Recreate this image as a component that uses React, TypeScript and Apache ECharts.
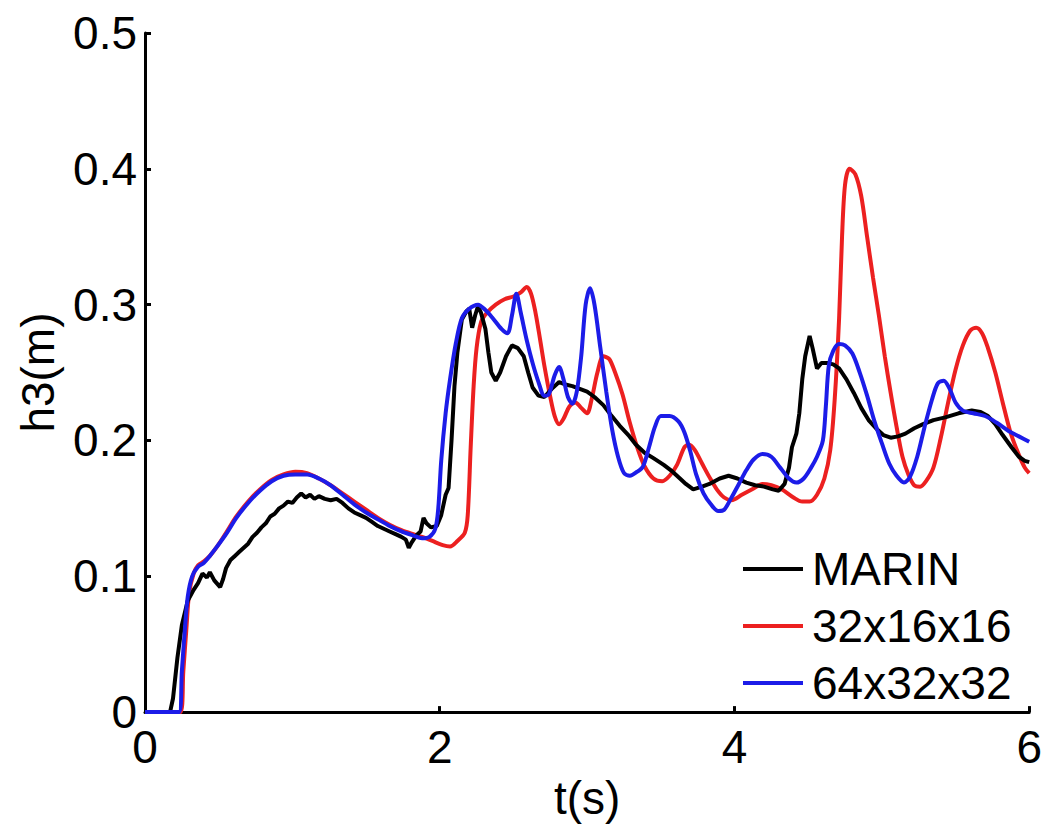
import React, { useEffect, useRef } from "react";
import * as echarts from "echarts";

// Time stamps (s) and wave heights h3 (m) for each run
const marinT = [0, 0.17, 0.19, 0.22, 0.25, 0.29, 0.33, 0.36, 0.39, 0.42, 0.44, 0.47, 0.51, 0.53, 0.55, 0.58, 0.61, 0.64, 0.67, 0.7, 0.73, 0.76, 0.79, 0.82, 0.85, 0.88, 0.91, 0.94, 0.97, 1.0, 1.03, 1.06, 1.09, 1.12, 1.15, 1.18, 1.22, 1.26, 1.3, 1.34, 1.38, 1.42, 1.46, 1.5, 1.54, 1.58, 1.62, 1.66, 1.7, 1.74, 1.77, 1.79, 1.81, 1.84, 1.87, 1.89, 1.91, 1.94, 1.98, 2.01, 2.04, 2.06, 2.08, 2.1, 2.12, 2.15, 2.18, 2.2, 2.22, 2.24, 2.26, 2.28, 2.31, 2.33, 2.35, 2.38, 2.41, 2.45, 2.49, 2.53, 2.57, 2.6, 2.63, 2.67, 2.71, 2.76, 2.81, 2.86, 2.9, 2.95, 3.0, 3.05, 3.11, 3.16, 3.22, 3.28, 3.33, 3.39, 3.45, 3.52, 3.58, 3.63, 3.67, 3.72, 3.78, 3.83, 3.9, 3.96, 4.02, 4.08, 4.14, 4.2, 4.26, 4.3, 4.34, 4.37, 4.39, 4.42, 4.44, 4.46, 4.48, 4.51, 4.53, 4.56, 4.59, 4.63, 4.67, 4.71, 4.76, 4.81, 4.86, 4.91, 4.96, 5.01, 5.06, 5.11, 5.16, 5.22, 5.28, 5.35, 5.43, 5.52, 5.61, 5.67, 5.72, 5.77, 5.82, 5.88, 5.93, 5.97, 6.0];
const marinH = [0, 0, 0.01, 0.04, 0.064, 0.082, 0.09, 0.095, 0.102, 0.099, 0.103, 0.097, 0.092, 0.098, 0.106, 0.112, 0.115, 0.118, 0.121, 0.124, 0.129, 0.132, 0.136, 0.139, 0.144, 0.146, 0.15, 0.152, 0.155, 0.154, 0.158, 0.161, 0.158, 0.16, 0.157, 0.159, 0.157, 0.156, 0.157, 0.154, 0.15, 0.147, 0.145, 0.143, 0.14, 0.137, 0.135, 0.133, 0.131, 0.129, 0.127, 0.121, 0.125, 0.13, 0.133, 0.143, 0.139, 0.136, 0.137, 0.145, 0.16, 0.165, 0.2, 0.24, 0.265, 0.289, 0.295, 0.297, 0.283, 0.292, 0.299, 0.294, 0.282, 0.265, 0.25, 0.244, 0.25, 0.262, 0.27, 0.268, 0.262, 0.25, 0.239, 0.233, 0.232, 0.238, 0.243, 0.241, 0.24, 0.238, 0.236, 0.232, 0.226, 0.219, 0.211, 0.204, 0.197, 0.191, 0.187, 0.182, 0.177, 0.172, 0.168, 0.164, 0.166, 0.168, 0.172, 0.174, 0.172, 0.169, 0.167, 0.166, 0.164, 0.163, 0.168, 0.18, 0.195, 0.205, 0.22, 0.245, 0.262, 0.277, 0.268, 0.253, 0.257, 0.257, 0.256, 0.253, 0.245, 0.235, 0.224, 0.215, 0.209, 0.204, 0.202, 0.203, 0.205, 0.209, 0.212, 0.215, 0.217, 0.22, 0.222, 0.221, 0.218, 0.212, 0.204, 0.195, 0.188, 0.185, 0.184];

const coarseT = [0, 0.24, 0.26, 0.28, 0.3, 0.33, 0.36, 0.4, 0.44, 0.49, 0.55, 0.62, 0.7, 0.78, 0.86, 0.94, 1.02, 1.1, 1.18, 1.26, 1.34, 1.42, 1.5, 1.58, 1.66, 1.74, 1.82, 1.88, 1.95, 2.02, 2.07, 2.12, 2.17, 2.19, 2.21, 2.23, 2.25, 2.28, 2.32, 2.38, 2.44, 2.5, 2.55, 2.59, 2.62, 2.65, 2.68, 2.71, 2.75, 2.78, 2.81, 2.84, 2.88, 2.92, 2.96, 3.0, 3.03, 3.07, 3.11, 3.15, 3.19, 3.24, 3.29, 3.34, 3.39, 3.45, 3.51, 3.56, 3.61, 3.66, 3.69, 3.73, 3.78, 3.83, 3.88, 3.93, 3.98, 4.05, 4.12, 4.19, 4.25, 4.32, 4.4, 4.46, 4.51, 4.56, 4.61, 4.65, 4.68, 4.71, 4.73, 4.75, 4.78, 4.82, 4.86, 4.9, 4.94, 4.98, 5.02, 5.06, 5.1, 5.14, 5.18, 5.22, 5.26, 5.3, 5.35, 5.4, 5.45, 5.5, 5.55, 5.6, 5.64, 5.68, 5.72, 5.77, 5.82, 5.87, 5.92, 5.97, 6.0];
const coarseH = [0, 0, 0.03, 0.06, 0.088, 0.102, 0.108, 0.111, 0.115, 0.122, 0.132, 0.144, 0.155, 0.164, 0.171, 0.175, 0.177, 0.176, 0.172, 0.167, 0.161, 0.155, 0.149, 0.143, 0.138, 0.134, 0.131, 0.129, 0.126, 0.123, 0.122, 0.126, 0.132, 0.145, 0.195, 0.24, 0.268, 0.287, 0.294, 0.3, 0.304, 0.306, 0.309, 0.313, 0.308, 0.294, 0.275, 0.255, 0.232, 0.218, 0.212, 0.216, 0.225, 0.228, 0.224, 0.22, 0.23, 0.25, 0.262, 0.26, 0.25, 0.234, 0.213, 0.195, 0.181, 0.172, 0.17, 0.174, 0.182, 0.195, 0.197, 0.193, 0.183, 0.173, 0.164, 0.158, 0.156, 0.16, 0.164, 0.168, 0.167, 0.164, 0.158, 0.155, 0.155, 0.16, 0.172, 0.193, 0.23, 0.29, 0.35, 0.388, 0.4, 0.396, 0.38, 0.35, 0.32, 0.292, 0.262, 0.235, 0.21, 0.188, 0.175, 0.167, 0.166, 0.17, 0.18, 0.202, 0.228, 0.252, 0.27, 0.281, 0.283, 0.279, 0.268, 0.25, 0.228, 0.207, 0.192, 0.18, 0.176];

const fineT = [0, 0.23, 0.25, 0.27, 0.29, 0.32, 0.36, 0.4, 0.44, 0.49, 0.55, 0.62, 0.7, 0.78, 0.86, 0.94, 1.02, 1.1, 1.18, 1.26, 1.34, 1.42, 1.5, 1.58, 1.66, 1.74, 1.82, 1.88, 1.93, 1.97, 1.99, 2.01, 2.04, 2.07, 2.11, 2.15, 2.2, 2.26, 2.31, 2.36, 2.42, 2.46, 2.49, 2.52, 2.55, 2.59, 2.63, 2.67, 2.71, 2.74, 2.78, 2.81, 2.84, 2.87, 2.9, 2.93, 2.96, 2.99, 3.02, 3.05, 3.09, 3.13, 3.17, 3.21, 3.25, 3.29, 3.34, 3.38, 3.42, 3.46, 3.5, 3.56, 3.62, 3.66, 3.7, 3.74, 3.79, 3.84, 3.89, 3.93, 3.98, 4.03, 4.08, 4.13, 4.19, 4.25, 4.31, 4.37, 4.42, 4.47, 4.52, 4.56, 4.6, 4.62, 4.64, 4.67, 4.71, 4.75, 4.8, 4.85, 4.9, 4.95, 5.0, 5.05, 5.1, 5.15, 5.19, 5.24, 5.29, 5.34, 5.38, 5.42, 5.46, 5.5, 5.55, 5.62, 5.7, 5.78, 5.86, 5.93, 6.0];
const fineH = [0, 0, 0.03, 0.06, 0.085, 0.1, 0.107, 0.11, 0.115, 0.122, 0.131, 0.143, 0.154, 0.163, 0.17, 0.174, 0.175, 0.175, 0.172, 0.167, 0.16, 0.153, 0.147, 0.142, 0.137, 0.133, 0.13, 0.128, 0.129, 0.135, 0.15, 0.185, 0.22, 0.245, 0.272, 0.29, 0.297, 0.3, 0.296, 0.29, 0.282, 0.279, 0.292, 0.308, 0.294, 0.274, 0.257, 0.243, 0.233, 0.234, 0.248, 0.254, 0.245, 0.232, 0.227, 0.236, 0.262, 0.3, 0.312, 0.3, 0.268, 0.236, 0.208, 0.188, 0.176, 0.174, 0.177, 0.181, 0.195, 0.21, 0.218, 0.218, 0.214, 0.206, 0.192, 0.175, 0.161, 0.153, 0.148, 0.149, 0.158, 0.168, 0.178, 0.186, 0.19, 0.188, 0.18, 0.172, 0.169, 0.172, 0.18, 0.188, 0.2, 0.225, 0.255, 0.266, 0.271, 0.27, 0.264, 0.25, 0.233, 0.214, 0.198, 0.183, 0.174, 0.169, 0.173, 0.188, 0.21, 0.23, 0.242, 0.244, 0.238, 0.228, 0.222, 0.22, 0.218, 0.213, 0.207, 0.203, 0.199];

const seriesNames = ["MARIN", "32x16x16", "64x32x32"];
const xTicks = { min: 0, max: 6, interval: 2 };
const yTicks = { min: 0, max: 0.5, interval: 0.1 };

const FONT = "'Liberation Sans', Arial, Helvetica, sans-serif";

const pairs = (t: number[], h: number[]) => t.map((v, i) => [v, h[i]]);

export default function App() {
  const ref = useRef<HTMLDivElement>(null);

  useEffect(() => {
    document.body.style.margin = "0";
    const chart = echarts.init(ref.current!, null, { renderer: "svg" });
    const axisStyle = { color: "#000", width: 3 };
    chart.setOption({
      animation: false,
      backgroundColor: "#fff",
      grid: { left: 145, right: 15, top: 33, bottom: 105 },
      legend: {
        orient: "vertical",
        left: 738,
        top: 539,
        icon: "rect",
        itemWidth: 60,
        itemHeight: 4,
        itemGap: 7,
        data: seriesNames,
        textStyle: {
          fontFamily: FONT,
          fontSize: 46,
          lineHeight: 50,
          color: "#000",
          padding: [0, 0, 0, 4],
        },
      },
      xAxis: {
        type: "value",
        ...xTicks,
        name: "t(s)",
        nameLocation: "middle",
        nameGap: 54,
        nameTextStyle: { fontFamily: FONT, fontSize: 46, color: "#000" },
        axisLine: { show: true, lineStyle: axisStyle },
        axisTick: { show: true, inside: true, length: 6, lineStyle: axisStyle },
        axisLabel: { fontFamily: FONT, fontSize: 46, color: "#000", margin: 12 },
        splitLine: { show: false },
      },
      yAxis: {
        type: "value",
        ...yTicks,
        name: "h3(m)",
        nameLocation: "middle",
        nameGap: 84,
        nameTextStyle: { fontFamily: FONT, fontSize: 46, color: "#000" },
        axisLine: { show: true, lineStyle: axisStyle },
        axisTick: { show: true, inside: true, length: 6, lineStyle: axisStyle },
        axisLabel: { fontFamily: FONT, fontSize: 46, color: "#000", margin: 8 },
        splitLine: { show: false },
      },
      series: [
        {
          name: seriesNames[0],
          type: "line",
          data: pairs(marinT, marinH),
          symbol: "none",
          lineStyle: { color: "#000000", width: 4 },
          itemStyle: { color: "#000000" },
          z: 3,
        },
        {
          name: seriesNames[1],
          type: "line",
          data: pairs(coarseT, coarseH),
          symbol: "none",
          smooth: 0.3,
          lineStyle: { color: "#ec2020", width: 4 },
          itemStyle: { color: "#ec2020" },
          z: 2,
        },
        {
          name: seriesNames[2],
          type: "line",
          data: pairs(fineT, fineH),
          symbol: "none",
          smooth: 0.3,
          lineStyle: { color: "#1c1ce8", width: 4 },
          itemStyle: { color: "#1c1ce8" },
          z: 4,
        },
      ],
    });
    return () => chart.dispose();
  }, []);

  return <div ref={ref} style={{ width: 1045, height: 826 }} />;
}
